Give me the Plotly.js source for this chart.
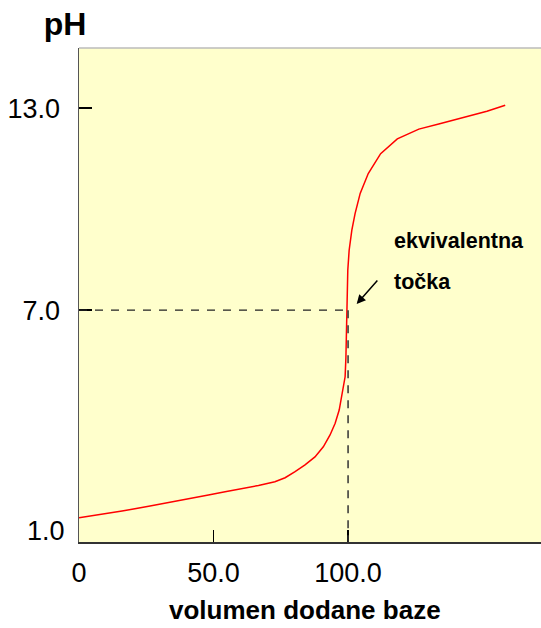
<!DOCTYPE html>
<html>
<head>
<meta charset="utf-8">
<script src="https://cdn.plot.ly/plotly-3.0.1.min.js"></script>
<style>html,body{margin:0;padding:0;background:#fff;}#chart{width:541px;height:628px;}</style>
</head>
<body>
<div id="chart"></div>
<script>
// Titration curve: volume of added base vs pH
const volume = [0, 7.4, 16.0, 25.9, 33.3, 40.7, 48.1, 54.3, 60.5, 66.7, 72.8, 76.6, 80.3, 84.0, 87.7, 90.8, 93.3, 95.2, 96.7, 97.9, 98.9, 99.2, 99.4, 99.5, 99.6, 99.9, 100.4, 101.4, 102.6, 104.5, 107.5, 112.1, 118.3, 126.3, 133.7, 141.7, 147.3, 151.6, 158.4];
const pH     = [0.83, 0.92, 1.03, 1.17, 1.29, 1.40, 1.51, 1.60, 1.69, 1.79, 1.90, 2.02, 2.20, 2.40, 2.64, 2.94, 3.29, 3.64, 4.03, 4.53, 5.02, 5.60, 6.30, 7.00, 7.59, 8.19, 8.78, 9.38, 9.87, 10.47, 11.06, 11.65, 12.09, 12.38, 12.53, 12.69, 12.82, 12.91, 13.09];

const xTickVals = [0, 50, 100];
const xTickText = ['0', '50.0', '100.0'];
const yMin = 0.11, yMax = 14.79;
const yTickVals = [yMin, 7, 13, yMax];
const yTickText = ['', '7.0', '13.0', ''];
const yBottomLabel = '1.0';
const yBottomLabelPos = 0.44;

const eqVolume = 100;
const eqPH = 7;

const xTitle = 'volumen dodane baze';
const yTitle = 'pH';
const eqLabel1 = 'ekvivalentna';
const eqLabel2 = 'točka';

const FONT = 'Liberation Sans, Arial, sans-serif';

const trace = {
  x: volume, y: pH, type: 'scatter', mode: 'lines',
  line: {color: '#ff0000', width: 1.5, shape: 'linear'},
  hoverinfo: 'skip', showlegend: false
};

const layout = {
  width: 541, height: 628,
  margin: {l: 79, r: 0, t: 48, b: 86},
  paper_bgcolor: '#ffffff',
  plot_bgcolor: '#ffffcc',
  showlegend: false,
  title: {
    text: '<b>' + yTitle + '</b>',
    font: {family: FONT, size: 32, color: '#000'},
    x: 65/541, xanchor: 'center', xref: 'container',
    y: 1 - 24/628, yanchor: 'middle', yref: 'container'
  },
  xaxis: {
    range: [0, 171.7],
    tickvals: xTickVals, ticktext: xTickText,
    ticks: 'inside', ticklen: 12, tickwidth: 1.5, tickcolor: '#000',
    showline: true, linecolor: '#333', linewidth: 2,
    showgrid: false, zeroline: false,
    tickfont: {family: FONT, size: 27, color: '#000'},
    ticklabelstandoff: 6
  },
  yaxis: {
    range: [yMin, yMax],
    tickvals: yTickVals, ticktext: yTickText,
    ticks: 'inside', ticklen: 13, tickwidth: 1.5, tickcolor: '#000',
    showline: true, linecolor: '#555', linewidth: 1.5,
    showgrid: false, zeroline: false,
    tickfont: {family: FONT, size: 27, color: '#000'},
    ticklabelstandoff: 12
  },
  shapes: [
    {type: 'line', xref: 'paper', yref: 'paper', x0: 0, x1: 1, y0: 1, y1: 1,
     line: {color: '#bbbbbb', width: 1.5}},
    {type: 'line', xref: 'x', yref: 'y', x0: 0, x1: eqVolume - 0.5, y0: eqPH, y1: eqPH,
     line: {color: '#222', width: 1.3, dash: '8px,8px'}},
    {type: 'line', xref: 'x', yref: 'y', x0: eqVolume, x1: eqVolume, y0: eqPH, y1: yMin,
     line: {color: '#333', width: 1.5, dash: '8px,7px'}}
  ],
  annotations: [
    {xref: 'paper', yref: 'paper', x: 0.489, y: -0.171, xanchor: 'center', yanchor: 'bottom',
     text: '<b>' + xTitle + '</b>', showarrow: false, borderpad: 0,
     font: {family: FONT, size: 26, color: '#000'}},
    {xref: 'paper', yref: 'y', x: 0, y: yBottomLabelPos, xanchor: 'right', yanchor: 'middle',
     xshift: -12, text: yBottomLabel, showarrow: false,
     font: {family: FONT, size: 27, color: '#000'}},
    {xref: 'x', yref: 'y', x: 103.2, y: 7.18, ax: 22, ay: -25, text: '',
     showarrow: true, arrowhead: 2, arrowsize: 1.2, arrowwidth: 1.5, arrowcolor: '#000'},
    {xref: 'x', yref: 'y', x: 116.2, y: 9.05, xanchor: 'left', yanchor: 'middle',
     text: '<b>' + eqLabel1 + '</b>', showarrow: false,
     font: {family: FONT, size: 21.5, color: '#000'}},
    {xref: 'x', yref: 'y', x: 116.2, y: 7.83, xanchor: 'left', yanchor: 'middle',
     text: '<b>' + eqLabel2 + '</b>', showarrow: false,
     font: {family: FONT, size: 21.5, color: '#000'}}
  ]
};

Plotly.newPlot('chart', [trace], layout, {displayModeBar: false, staticPlot: true});
</script>
</body>
</html>
